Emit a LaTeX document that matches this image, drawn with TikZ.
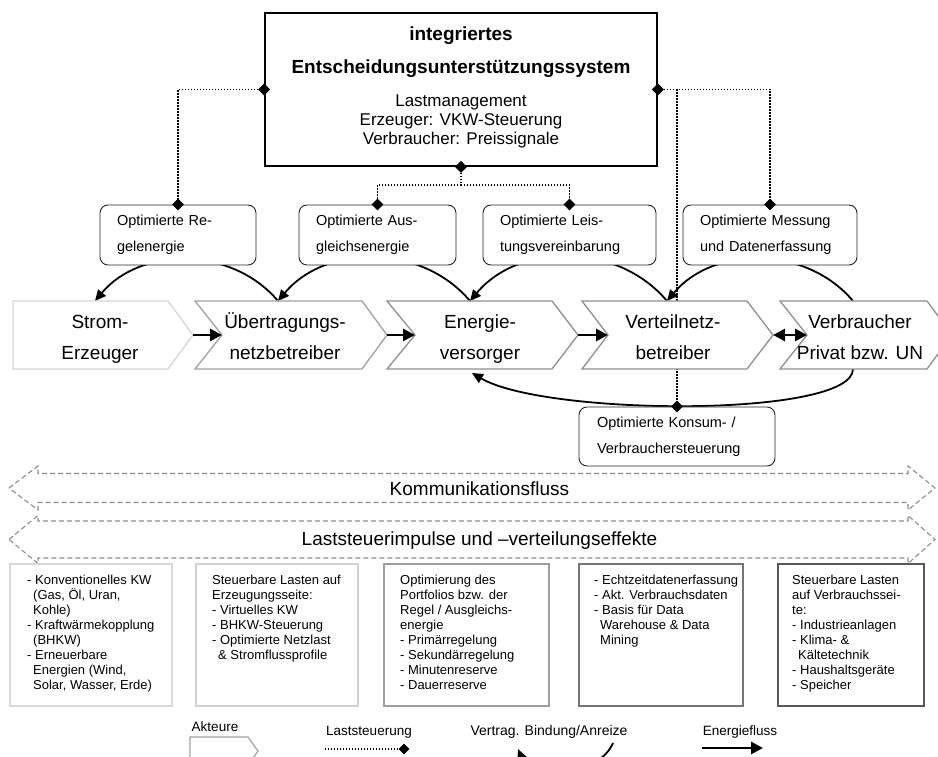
\documentclass[tikz,border=0pt]{standalone}
\usepackage{fontspec}
\setmainfont{Liberation Sans}
\usetikzlibrary{arrows.meta,shapes.geometric}
\pgfdeclarelayer{bg}
\pgfsetlayers{bg,main}
\definecolor{chA}{gray}{0.84}
\definecolor{chB}{gray}{0.63}
\definecolor{chC}{gray}{0.56}
\definecolor{bxA}{gray}{0.85}
\definecolor{bxB}{gray}{0.82}
\definecolor{bxC}{gray}{0.62}
\definecolor{bxD}{gray}{0.46}
\definecolor{bxE}{gray}{0.35}
\newcommand{\tp}{\vphantom{Ü}}
\newcommand{\bt}{\vphantom{g}}
\begin{document}
\begin{tikzpicture}[x=1pt,y=1pt,
  chev/.style={fill=white, line width=1.3pt, line join=miter},
  ctext/.style={align=center, font=\fontsize{19}{31}\selectfont, inner sep=0pt},
  obox/.style={draw=black!85, line width=0.9pt, rounded corners=8pt, fill=white, align=left,
     font=\fontsize{14.5}{26}\selectfont, inner xsep=17pt, inner ysep=0pt, minimum height=60pt},
  lst/.style={dash pattern=on 1.3pt off 1.7pt, line width=1.3pt},
  dm/.style={diamond, fill=black, inner sep=0pt, minimum size=12pt},
  vb/.style={line width=1.8pt, -{Triangle[length=11pt,width=10pt]}},
  ef/.style={line width=2.8pt, -{Triangle[length=12pt,width=12pt]}},
  bigarrow/.style={draw=black!45, dash pattern=on 5pt off 3pt, line width=1.1pt},
  bbox/.style={line width=2pt, anchor=north west, draw, inner sep=0pt},
  btext/.style={anchor=north west, align=left, inner sep=0pt, font=\fontsize{13}{15}\selectfont},
  lgtext/.style={inner sep=0pt, font=\fontsize{13.5}{15}\selectfont},
]
\useasboundingbox (0,0) rectangle (938,756);
\clip (0,0) rectangle (938,756);

% ---------- top box ----------
\node[draw, line width=1.8pt, fill=white, minimum width=392pt, minimum height=153pt, inner sep=0pt] (dss) at (461,666.5) {};
\node[inner sep=0pt, font=\bfseries\fontsize{19}{23}\selectfont] (t1) at (461,720) {integriertes};
\node[inner sep=0pt, font=\bfseries\fontsize{19}{23}\selectfont] (t2) at (461,687) {Entscheidungsunterstützungssystem};
\node[inner sep=0pt, align=center, font=\fontsize{17}{19}\selectfont] (t3) at (461,635) {Lastmanagement\\Erzeuger: VKW-Steuerung\\Verbraucher: Preissignale};

% ---------- optimisation boxes ----------
\node[obox, text width=122pt] (b1) at (178,521) {Optimierte Re-\\gelenergie};
\node[obox, text width=123pt] (b2) at (377.5,521) {Optimierte Aus-\\gleichsenergie};
\node[obox, text width=139pt] (b3) at (569.5,521) {Optimierte Leis-\\tungsvereinbarung};
\node[obox, text width=140pt] (b4) at (770,521) {Optimierte Messung\\und Datenerfassung};
\node[obox, text width=160pt, inner xsep=18pt, minimum height=59pt] (b5) at (677,319.5) {Optimierte Konsum- /\\Verbrauchersteuerung};

% ---------- coordinates on actors ----------
\coordinate (p1) at (95,455);
\coordinate (p2) at (278,455);
\coordinate (p3) at (470,455);
\coordinate (p4) at (667,455);
\coordinate (p5) at (853,455);
\coordinate (q5) at (853,387);
\coordinate (q3) at (472,383);
\coordinate (a1tip) at (193,421);
\coordinate (a2notch) at (222,421);
\coordinate (a2tip) at (387,421);
\coordinate (a3notch) at (415,421);
\coordinate (a3tip) at (578,421);
\coordinate (a4notch) at (608,421);
\coordinate (a4tip) at (773,421);
\coordinate (a5notch) at (807,421);
\coordinate (j2) at (461,571);
\coordinate (j3) at (677,666.5);

% ---------- background connectors ----------
\begin{pgfonlayer}{bg}
\draw[lst] (dss.west) -| (b1.north);
\draw[lst] (dss.south) -- (j2);
\draw[lst] (j2) -| (b2.north);
\draw[lst] (j2) -| (b3.north);
\draw[lst] (dss.east) -| (b4.north);
\draw[lst] (j3) -- (b5.north);
\draw[vb] (p2) to[out=130,in=50] (p1);
\draw[vb] (p3) to[out=130,in=50] (p2);
\draw[vb] (p4) to[out=130,in=50] (p3);
\draw[vb] (p5) to[out=130,in=50] (p4);
\draw[vb] (q5) .. controls (853,338) and (545,340) .. (q3);
\end{pgfonlayer}

% ---------- actors (chevrons) ----------
\draw[chev, draw=chA] (13,455) -- (168,455) -- (193,421) -- (168,387) -- (13,387) -- cycle;
\draw[chev, draw=chB] (195,455) -- (362,455) -- (387,421) -- (362,387) -- (195,387) -- (222,421) -- cycle;
\draw[chev, draw=chC] (387,455) -- (552,455) -- (578,421) -- (552,387) -- (387,387) -- (415,421) -- cycle;
\draw[chev, draw=chC] (582,455) -- (747,455) -- (773,421) -- (747,387) -- (582,387) -- (608,421) -- cycle;
\draw[chev, draw=chC] (780,455) -- (927,455) -- (952,421) -- (927,387) -- (780,387) -- (807,421) -- cycle;
\node[ctext] (a1) at (100,418) {\tp Strom-\\Erzeuger\bt};
\node[ctext] (a2) at (285,418) {\tp Übertragungs-\\netzbetreiber\bt};
\node[ctext] (a3) at (480,418) {\tp Energie-\\versorger\bt};
\node[ctext] (a4) at (673,418) {\tp Verteilnetz-\\betreiber\bt};
\node[ctext] (a5) at (860,418) {\tp Verbraucher\\Privat bzw. UN\bt};

% ---------- energy flow ----------
\draw[ef] (a1tip) -- (a2notch);
\draw[ef] (a2tip) -- (a3notch);
\draw[ef] (a3tip) -- (a4notch);
\draw[line width=2.8pt, {Triangle[length=12pt,width=12pt]}-{Triangle[length=12pt,width=12pt]}] (a4tip) -- (a5notch);

% ---------- diamonds ----------
\node[dm] (d1) at (dss.west) {};
\node[dm] (d2) at (dss.east) {};
\node[dm] (d3) at (dss.south) {};
\node[dm] (d4) at (b1.north) {};
\node[dm] (d5) at (b2.north) {};
\node[dm] (d6) at (b3.north) {};
\node[dm] (d7) at (b4.north) {};
\node[dm] (d8) at (b5.north) {};

% ---------- flow bands ----------
\draw[bigarrow] (9,268) -- (38,290) -- (38,282.5) -- (908,282.5) -- (908,290) -- (935,268) -- (908,246) -- (908,253.5) -- (38,253.5) -- (38,246) -- cycle;
\draw[bigarrow] (9,216.5) -- (38,240.5) -- (38,235) -- (908,235) -- (908,240.5) -- (935,216.5) -- (908,192.5) -- (908,198) -- (38,198) -- (38,192.5) -- cycle;
\node[inner sep=0pt, font=\fontsize{19}{22}\selectfont] (k1) at (479.5,267.5) {Kommunikationsfluss};
\node[inner sep=0pt, font=\fontsize{19}{22}\selectfont] (k2) at (479.5,215) {Laststeuerimpulse und –verteilungseffekte};

% ---------- detail boxes ----------
\node[bbox, draw=bxA, minimum width=162pt, minimum height=142pt] (bA) at (9,193) {};
\node[bbox, draw=bxB, minimum width=162pt, minimum height=142pt] (bB) at (195,193) {};
\node[bbox, draw=bxC, minimum width=165pt, minimum height=142pt] (bC) at (383,193) {};
\node[bbox, draw=bxD, minimum width=164pt, minimum height=142pt] (bD) at (578,193) {};
\node[bbox, draw=bxE, minimum width=146pt, minimum height=142pt] (bE) at (777,193) {};
\node[btext] (tA) at (27,181) {- Konventionelles KW\\\hspace*{6pt}(Gas, Öl, Uran,\\\hspace*{6pt}Kohle)\\- Kraftwärmekopplung\\\hspace*{6pt}(BHKW)\\- Erneuerbare\\\hspace*{6pt}Energien (Wind,\\\hspace*{6pt}Solar, Wasser, Erde)};
\node[btext] (tB) at (212,181) {Steuerbare Lasten auf\\Erzeugungsseite:\\- Virtuelles KW\\- BHKW-Steuerung\\- Optimierte Netzlast\\\hspace*{6pt}\& Stromflussprofile};
\node[btext] (tC) at (400,181) {Optimierung des\\Portfolios bzw. der\\Regel / Ausgleichs-\\energie\\- Primärregelung\\- Sekundärregelung\\- Minutenreserve\\- Dauerreserve};
\node[btext] (tD) at (594,181) {- Echtzeitdatenerfassung\\- Akt. Verbrauchsdaten\\- Basis für Data\\\hspace*{6pt}Warehouse \& Data\\\hspace*{6pt}Mining};
\node[btext] (tE) at (792,181) {Steuerbare Lasten\\auf Verbrauchssei-\\te:\\- Industrieanlagen\\- Klima- \&\\\hspace*{6pt}Kältetechnik\\- Haushaltsgeräte\\- Speicher};

% ---------- legend ----------
\node[lgtext] (lgA) at (215,29) {Akteure};
\draw[draw=chB, line width=1.2pt, fill=white] (190,19) -- (248,19) -- (258,5) -- (248,-9) -- (190,-9) -- cycle;
\node[lgtext] (lgL) at (369,24) {Laststeuerung};
\coordinate (lgL1) at (325,7);
\coordinate (lgL2) at (404,7);
\draw[lst] (lgL1) -- (lgL2);
\node[dm, minimum size=11pt] (lgD) at (lgL2) {};
\node[lgtext, font=\fontsize{14}{16}\selectfont] (lgV) at (549,24) {Vertrag. Bindung/Anreize};
\coordinate (lgV1) at (613,13);
\coordinate (lgV2) at (518,7);
\draw[vb] (lgV1) .. controls (598,-22) and (530,-22) .. (lgV2);
\node[lgtext] (lgE) at (740,24) {Energiefluss};
\coordinate (lgE1) at (702,8);
\coordinate (lgE2) at (763,8);
\draw[ef] (lgE1) -- (lgE2);
\end{tikzpicture}
\end{document}
